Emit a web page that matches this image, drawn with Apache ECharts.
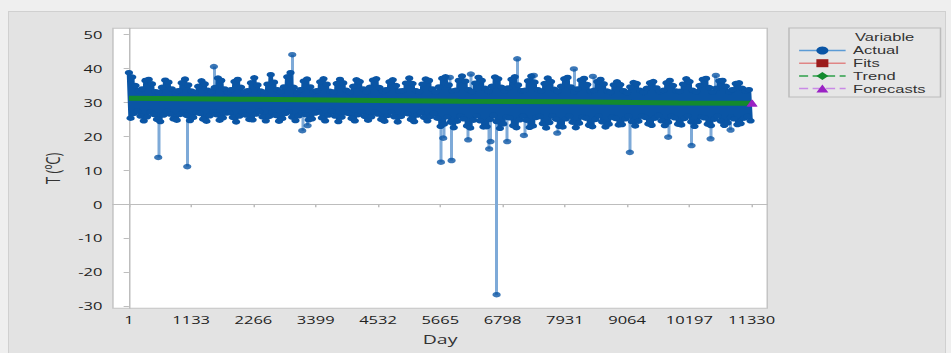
<!DOCTYPE html>
<html><head><meta charset="utf-8">
<script src="https://cdn.jsdelivr.net/npm/echarts@6/dist/echarts.min.js"></script>
<style>
html,body{margin:0;padding:0;background:#efefef;width:951px;height:353px;overflow:hidden;}
#panel{position:absolute;left:8px;top:11px;width:936px;height:342px;background:#e3e3e3;border-left:1px solid #d0d0d0;border-top:1px solid #d0d0d0;border-right:1px solid #d0d0d0;}
#chart{position:absolute;left:0;top:0;width:634px;height:353px;transform:scaleX(1.5);transform-origin:0 0;}
</style></head><body>
<div id="panel"></div><div id="chart"></div>
<script>
// ---- data ----
const xTickLabels = [1, 1133, 2266, 3399, 4532, 5665, 6798, 7931, 9064, 10197, 11330];
const yTickLabels = [-30, -20, -10, 0, 10, 20, 30, 40, 50];

// upper envelope of the daily series, one reading every 60 days starting at day 1
const actualHigh = [
38.8,37.5,35,33.5,34,36.5,
36.8,35.5,33.2,33,34.5,36.6,
36,34,32.8,33.5,35.8,36.9,
35.2,33.4,33,34.8,36.4,35.5,
33.6,33.2,34.4,37.2,36.5,34,
33,33.8,36.2,36.8,34.5,33.1,
33.5,35.8,37.3,35.2,33.4,33,
35.4,38.2,36,33.8,33.2,34.6,
37.6,38.8,34.5,33,33.8,36.3,
36.9,34.6,33.2,33.5,36.1,37,
35.4,33.3,33.1,35.6,36.8,35.8,
33.6,33,34.8,36.7,36.2,34,
33.2,34.5,36.6,37,34.4,33.3,
33.8,36.1,36.7,35,33.4,33.5,
35.7,37.2,35.6,33.5,33.2,35.4,
36.9,36.5,34,33.1,34.6,37.1,
37.6,35.2,33.4,33.6,36.5,37.8,
36.3,33.8,33.2,35.7,37.4,36.5,
34.2,33.3,34.8,37.5,37,34.5,
33.4,34.3,36.8,37.6,35.2,33.5,
33.6,36.4,37.8,36,33.8,33.4,
35.6,37.2,36.2,33.9,33.3,34.8,
37,37.4,34.6,33.2,34,36.6,
37.1,35.3,33.3,33.6,36.2,36.8,
35.5,33.4,33,35.2,36.1,35.3,
33.5,32.9,34.6,35.9,35.6,33.6,
33,34.2,35.8,36.2,34.3,33.2,
33.6,35.8,36.5,35,33.4,33.3,
35.4,37,36.2,33.6,33.2,35,
36.8,37.1,34.4,33.1,34.2,36.4,
36.5,34.8,33.2,33.8,35.6,35.8,
34.2,33.4,33.8
];
// lower envelope, one reading every 60 days starting at day 31
const actualLow = [
25.4,26.8,27.5,26,24.6,25.8,
27.2,26.5,25,24.4,26.3,27.4,
26.6,25.2,24.8,26.5,27.3,26.2,
24.7,25.6,27,26.8,25.1,24.5,
26.1,27.3,26.4,24.8,25.5,26.9,
27,25.6,24.3,26,27.2,26.3,
25,24.9,26.6,27.4,25.8,24.6,
25.9,27.1,26.2,24.5,25.3,26.8,
27.3,25.7,24.7,26.1,27,26.4,
24.9,25.2,26.9,27.2,25.5,24.6,
26.3,27.4,26,24.4,25.7,27,
26.8,25.3,24.6,26.4,27.3,25.9,
24.8,25.8,27.1,26.6,25,24.5,
26.2,27.2,25.8,24.3,25.9,26.9,
26.7,25,24.4,26.3,27.1,25.6,
24.6,25.9,26.8,25.4,23,23.6,
25.8,24.2,22.6,24.5,26,25.2,
23.1,22.5,24.8,26.1,24.6,22.8,
22.9,25,26.2,24.4,22.4,23.7,
25.7,25.5,23.2,22.6,24.9,26,
24.8,22.7,23.1,25.6,25.9,23.8,
22.5,24.1,26.1,25.1,23,22.8,
25.2,26,24.2,22.6,23.9,25.8,
25.4,23.3,22.9,25,26.1,24.3,
22.8,23.6,25.7,25.3,23.4,23.5,
25.2,26,24.4,23.1,24.5,26,
25.6,23.7,23.3,25.4,26.2,24.6,
23.2,24.2,25.9,25.5,23.6,23.4,
25.3,26.1,24.3,23,24.4,25.8,
25.5,23.6,23.2,25.1,26,24.5,
23.3,24,25.7,25.2,23.5,23.8,
25.4,25.9,24.6
];
const sampleStep = 60;

// isolated extreme days
const outlierDays   = [534,1062,1547,2972,3154,3252,5677,5719,5840,5871,6173,6222,6555,6580,6690,6883,7065,7187,7368,7793,8096,8442,9115,9812,10237,10583,10679,10947];
const outlierValues = [13.8,11.1,40.6,44.1,21.7,23.2,12.4,19.5,37.4,12.9,19.0,38.4,16.3,18.5,-26.7,18.5,42.9,20.3,38.0,21.0,39.9,37.7,15.3,19.8,17.3,19.3,38.0,21.9];
const bandCentre = 30;

const trendDays   = [1, 2000, 4000, 6000, 8000, 10000, 11330];
const trendValues = [31.3, 31.0, 30.7, 30.4, 30.2, 29.9, 29.8];
const fitsDays    = [1, 4000, 8000, 11330];
const fitsValues  = [31.2, 30.7, 30.2, 29.8];
const forecastDays   = [11331, 11345];
const forecastValues = [29.9, 29.9];

// ---- build series ----
const actualSeq = [];
for (let i = 0; i < actualHigh.length; i++) {
  const d = 1 + i * sampleStep;
  actualSeq.push([d, actualHigh[i]]);
  actualSeq.push([d + sampleStep / 2, actualLow[i]]);
}
const spikes = outlierDays.map((d, k) => ({coords: [[d, bandCentre], [d, outlierValues[k]]]}));
const outlierPts = outlierDays.map((d, k) => [d, outlierValues[k]]);
const zip = (a, b) => a.map((d, k) => [d, b[k]]);

const BLUE = '#0a55a5';
const FONT = 'Open Sans';
const LFONT = 'Liberation Sans';
const chart = echarts.init(document.getElementById('chart'), null, {renderer: 'svg'});
chart.setOption({
  animation: false,
  backgroundColor: 'transparent',
  textStyle: {fontFamily: FONT},
  grid: {left: 75.3, right: 122.5, top: 28.3, bottom: 44.7, show: true,
         backgroundColor: '#ffffff', borderColor: '#c4c4c4', borderWidth: 1},
  xAxis: {
    type: 'value', min: -290, max: 11614,
    name: 'Day', nameLocation: 'middle', nameGap: 24,
    nameTextStyle: {fontFamily: FONT, fontSize: 13, color: '#333'},
    axisLine: {show: true, lineStyle: {color: '#bdbdbd'}},
    axisTick: {show: true, length: 3, lineStyle: {color: '#bdbdbd'}, customValues: xTickLabels},
    axisLabel: {customValues: xTickLabels, formatter: v => String(v), fontFamily: FONT, fontSize: 11, color: '#222', margin: 6, showMinLabel: true, showMaxLabel: true},
    splitLine: {show: false}
  },
  yAxis: {
    type: 'value', min: -30.7, max: 51.9,
    name: 'T (ºC)', nameLocation: 'middle', nameGap: 29, nameRotate: 90,
    nameTextStyle: {fontFamily: FONT, fontSize: 13, color: '#333'},
    axisLine: {show: true, lineStyle: {color: '#bdbdbd'}},
    axisTick: {show: true, length: 3.5, lineStyle: {color: '#bdbdbd'}, customValues: yTickLabels},
    axisLabel: {customValues: yTickLabels, formatter: v => String(v), fontFamily: FONT, fontSize: 11, color: '#222', margin: 7},
    splitLine: {show: false}
  },
  legend: {
    orient: 'vertical', left: 532, top: 45, itemWidth: 31, itemHeight: 10, itemGap: 1.7,
    padding: 0, selectedMode: false,
    textStyle: {fontFamily: LFONT, fontSize: 11, lineHeight: 11, color: '#333'},
    data: [
      {name: 'Actual', itemStyle: {color: BLUE}, lineStyle: {color: '#5b9bd5', width: 1.5, type: 'solid'}},
      {name: 'Fits', itemStyle: {color: '#9b1b1b'}, lineStyle: {color: '#e08585', width: 1.5, type: 'solid'}},
      {name: 'Trend', itemStyle: {color: '#138a2e'}, lineStyle: {color: '#2ea04a', width: 1.5, type: 'dashed'}},
      {name: 'Forecasts', itemStyle: {color: '#9a22c4'}, lineStyle: {color: '#c98ae6', width: 1.5, type: 'dashed'}}
    ]
  },
  graphic: [
    {type: 'rect', shape: {x: 526, y: 28, width: 101, height: 69}, style: {fill: '#e6e6e6', stroke: '#bcbcbc', lineWidth: 1}, z: -1},
    {type: 'text', x: 570, y: 37.3, style: {text: 'Variable', fontFamily: LFONT, fontSize: 11, lineHeight: 11, fill: '#333', verticalAlign: 'middle'}}
  ],
  series: [
    {type: 'lines', coordinateSystem: 'cartesian2d', data: spikes, z: 1, silent: true,
     lineStyle: {color: '#7eaad8', width: 2, opacity: 1}},
    {name: 'Fits', type: 'line', data: zip(fitsDays, fitsValues), z: 1, symbol: 'rect', showSymbol: false,
     itemStyle: {color: '#9b1b1b'}, lineStyle: {color: '#e08585', width: 1}},
    {name: 'Actual', type: 'line', data: actualSeq, z: 2, symbol: 'circle', symbolSize: 5.5, showSymbol: true,
     itemStyle: {color: BLUE}, lineStyle: {color: BLUE, width: 3}},
    {name: 'Actual', type: 'scatter', data: outlierPts, z: 3, symbol: 'circle', symbolSize: 5.5,
     itemStyle: {color: BLUE}},
    {name: 'Trend', type: 'line', data: zip(trendDays, trendValues), z: 4, symbol: 'diamond', symbolSize: 6, showSymbol: false,
     itemStyle: {color: '#138a2e'}, lineStyle: {color: '#138a2e', width: 5}},
    {name: 'Forecasts', type: 'line', data: zip(forecastDays, forecastValues), z: 5, symbol: 'triangle', symbolSize: 7,
     itemStyle: {color: '#9a22c4'}, lineStyle: {color: '#c98ae6', width: 1.5, type: 'dashed'}}
  ]
});
</script></body></html>
